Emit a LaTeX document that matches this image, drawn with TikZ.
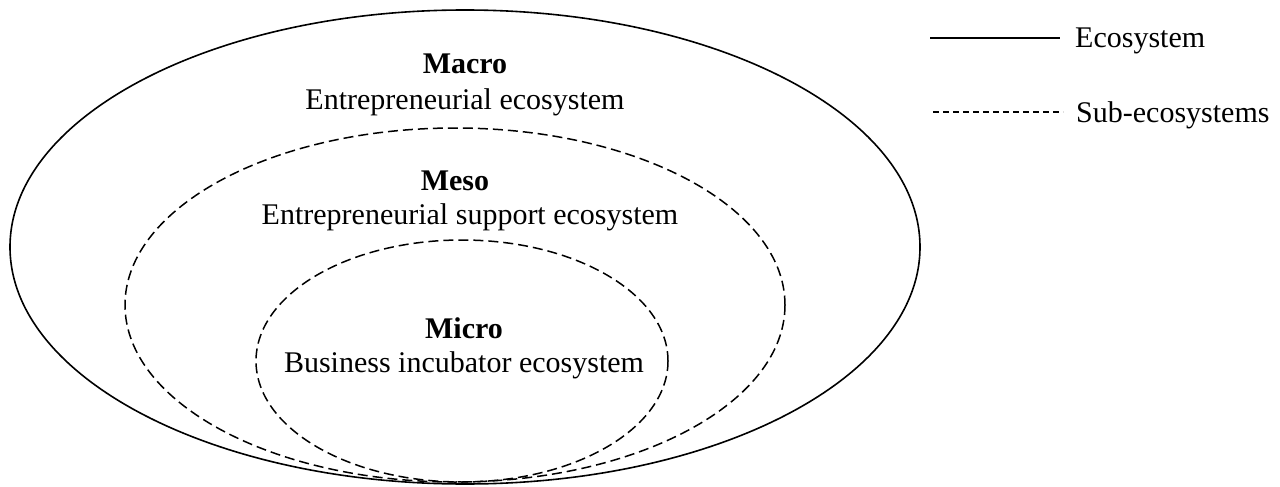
\documentclass[tikz,border=0pt]{standalone}
\usepackage{fontspec}
\setmainfont{Liberation Serif}
\tikzset{
  eco/.style={draw=black, line width=1.6pt},
  subeco/.style={draw=black, line width=1.5pt, dash pattern=on 10pt off 5pt},
  legsolid/.style={draw=black, line width=1.3pt},
  legdash/.style={draw=black, line width=1.3pt, dash pattern=on 6pt off 4pt},
  lbl/.style={inner sep=0pt, anchor=base, font=\fontsize{30}{36}\selectfont},
  lblb/.style={lbl, font=\fontsize{30}{36}\selectfont\bfseries},
  legtxt/.style={inner sep=0pt, anchor=base west, font=\fontsize{30}{36}\selectfont}
}
\begin{document}
\begin{tikzpicture}[x=1pt,y=-1pt]
\useasboundingbox (0,0) rectangle (1280,487);
% ellipses
\draw[eco] (465,247) ellipse [x radius=455, y radius=237];
\draw[subeco] (455,305) ellipse [x radius=330, y radius=177];
\draw[subeco] (462,361) ellipse [x radius=206, y radius=121];
% labels
\node[lblb] (macro) at (465,74) {Macro};
\node[lbl] (macrot) at (465,109) {Entrepreneurial ecosystem};
\node[lblb] (meso) at (455,190) {Meso};
\node[lbl] (mesot) at (470,224) {Entrepreneurial support ecosystem};
\node[lblb] (micro) at (464,338) {Micro};
\node[lbl] (microt) at (464,372) {Business incubator ecosystem};
% legend
\coordinate (l1a) at (930,38);
\coordinate (l1b) at (1060,38);
\coordinate (l2a) at (933,112);
\coordinate (l2b) at (1063,112);
\draw[legsolid] (l1a) -- (l1b);
\draw[legdash] (l2a) -- (l2b);
\node[legtxt] (leg1) at (1075,48) {Ecosystem};
\node[legtxt] (leg2) at (1076,122) {Sub-ecosystems};
\end{tikzpicture}
\end{document}
